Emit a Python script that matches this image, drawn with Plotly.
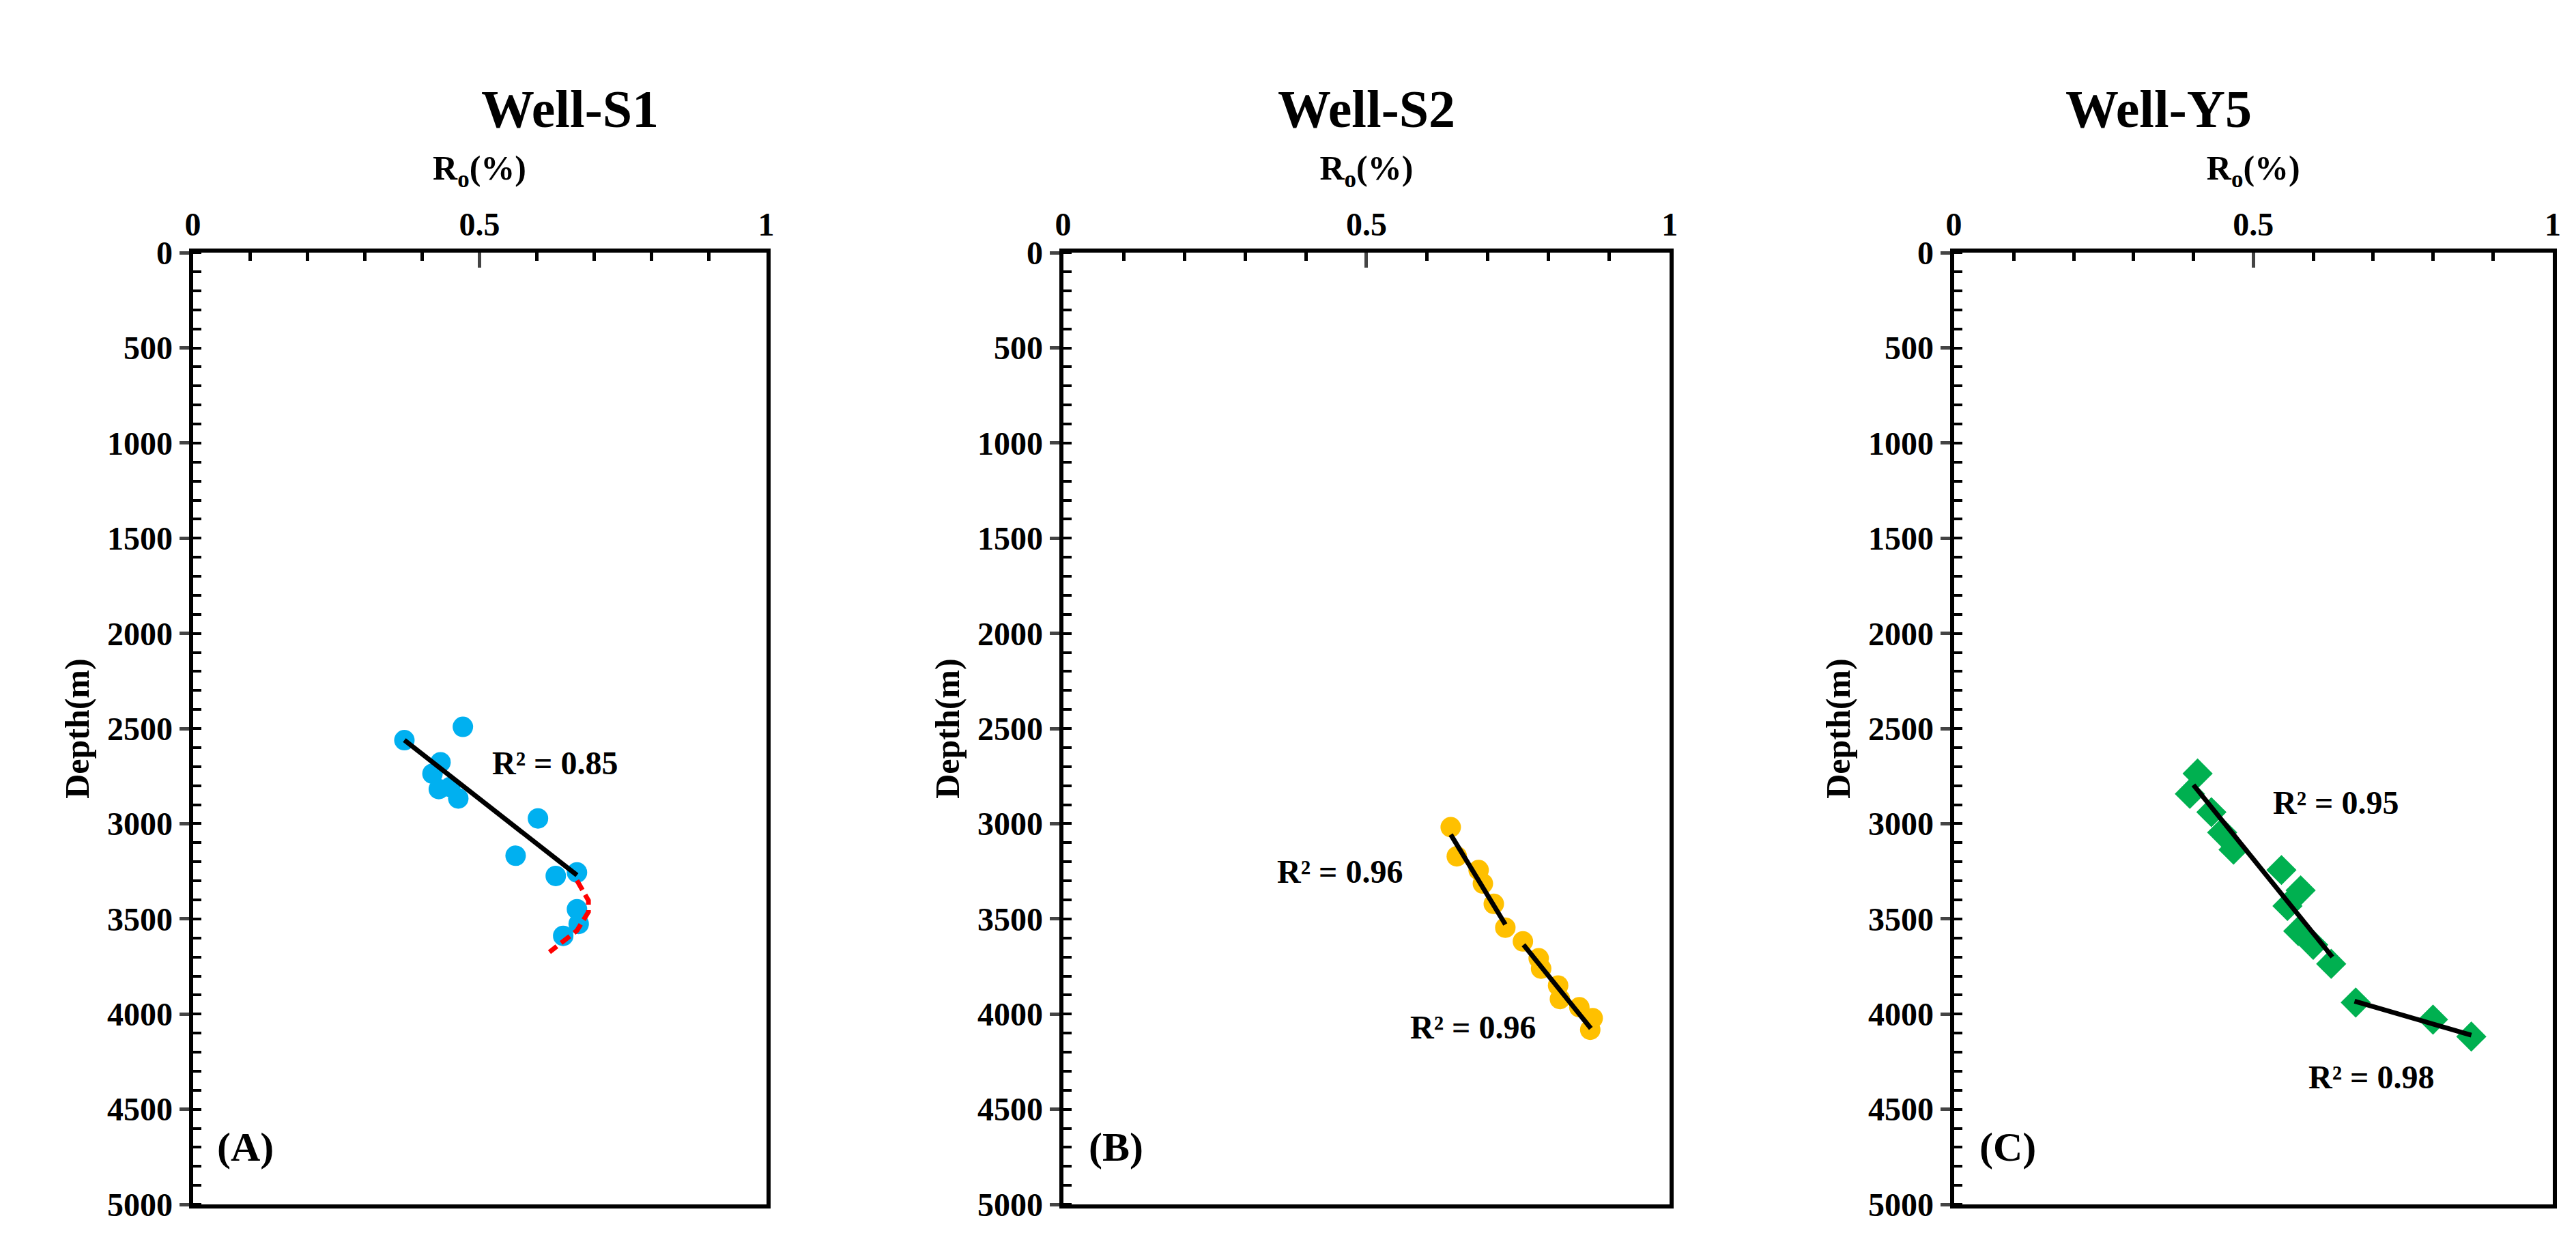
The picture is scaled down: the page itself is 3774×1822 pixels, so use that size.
import plotly.graph_objects as go

# Well-S1 data
s1_ro = [0.369, 0.471, 0.432, 0.418, 0.429, 0.463, 0.449, 0.602, 0.563, 0.633, 0.670, 0.670, 0.673, 0.646]
s1_depth = [2561, 2491, 2677, 2737, 2818, 2867, 2807, 2972, 3168, 3274, 3256, 3449, 3526, 3589]
s1_fit_ro = [0.369, 0.670]
s1_fit_depth = [2561, 3270]
s1_curve_ro = [0.670, 0.690, 0.690, 0.670, 0.622]
s1_curve_depth = [3298, 3403, 3463, 3561, 3674]

# Well-S2 data
s2_ro = [0.639, 0.649, 0.685, 0.692, 0.710, 0.729, 0.758, 0.784, 0.788, 0.816, 0.819, 0.851, 0.873, 0.869]
s2_depth = [3018, 3171, 3243, 3314, 3421, 3546, 3618, 3707, 3761, 3850, 3921, 3964, 4021, 4082]
s2_fit1_ro = [0.639, 0.729]
s2_fit1_depth = [3057, 3529]
s2_fit2_ro = [0.759, 0.870]
s2_fit2_depth = [3636, 4075]

# Well-Y5 data
y5_ro = [0.407, 0.394, 0.430, 0.448, 0.467, 0.547, 0.579, 0.557, 0.575, 0.600, 0.630, 0.671, 0.800, 0.864]
y5_depth = [2736, 2843, 2939, 3046, 3136, 3243, 3350, 3432, 3564, 3636, 3736, 3939, 4029, 4118]
y5_fit1_ro = [0.400, 0.632]
y5_fit1_depth = [2796, 3700]
y5_fit2_ro = [0.669, 0.864]
y5_fit2_depth = [3932, 4111]

FONT = "Liberation Serif"
domains = [(0.070, 0.294), (0.410, 0.647), (0.758, 0.992)]
titles = ["Well-S1", "Well-S2", "Well-Y5"]
panel_labels = ["(A)", "(B)", "(C)"]

fig = go.Figure()

def fit(x, y, xa, ya, dash="solid", color="black"):
    fig.add_trace(go.Scatter(x=x, y=y, mode="lines", xaxis=xa, yaxis=ya,
                             line=dict(color=color, width=7, dash=dash), showlegend=False))

fig.add_trace(go.Scatter(x=s1_ro, y=s1_depth, mode="markers", xaxis="x", yaxis="y",
                         marker=dict(color="#00B0F0", size=30, symbol="circle"), showlegend=False))
fit(s1_fit_ro, s1_fit_depth, "x", "y")
fit(s1_curve_ro, s1_curve_depth, "x", "y", dash="16px,8px", color="red")

fig.add_trace(go.Scatter(x=s2_ro, y=s2_depth, mode="markers", xaxis="x2", yaxis="y2",
                         marker=dict(color="#FFC000", size=30, symbol="circle"), showlegend=False))
fit(s2_fit1_ro, s2_fit1_depth, "x2", "y2")
fit(s2_fit2_ro, s2_fit2_depth, "x2", "y2")

fig.add_trace(go.Scatter(x=y5_ro, y=y5_depth, mode="markers", xaxis="x3", yaxis="y3",
                         marker=dict(color="#00B050", size=34, symbol="diamond"), showlegend=False))
fit(y5_fit1_ro, y5_fit1_depth, "x3", "y3")
fit(y5_fit2_ro, y5_fit2_depth, "x3", "y3")

layout = dict(width=3774, height=1822, plot_bgcolor="white", paper_bgcolor="white",
              margin=dict(l=0, r=0, t=0, b=0), font=dict(family=FONT, size=48, color="black"))
tickfont = dict(family=FONT, size=48, color="black", weight="bold")
annotations = []
for i, (d, t, p) in enumerate(zip(domains, titles, panel_labels)):
    sfx = "" if i == 0 else str(i + 1)
    layout["xaxis" + sfx] = dict(
        domain=list(d), anchor="y" + sfx, side="top", range=[0, 1], dtick=0.5,
        ticks="inside", ticklen=22, tickwidth=5, showgrid=False, zeroline=False,
        showline=True, linewidth=6, linecolor="black", mirror=True, tickfont=tickfont,
        minor=dict(dtick=0.1, ticks="inside", ticklen=12, tickwidth=5, tickcolor="black"),
        title=dict(text="<b>R<sub>o</sub>(%)</b>", font=dict(family=FONT, size=50), standoff=24))
    layout["yaxis" + sfx] = dict(
        domain=[0.022, 0.81], anchor="x" + sfx, range=[5000, 0], dtick=500,
        ticks="outside", ticklen=14, tickwidth=5, showgrid=False, zeroline=False,
        showline=True, linewidth=6, linecolor="black", mirror=True, tickfont=tickfont,
        minor=dict(dtick=100, ticks="inside", ticklen=12, tickwidth=4, tickcolor="black"),
        title=dict(text="<b>Depth(m)</b>", font=dict(family=FONT, size=50), standoff=12))
    annotations.append(dict(text="<b>" + t + "</b>", x=(d[0] + d[1]) / 2, y=0.955,
                            xref="paper", yref="paper", showarrow=False,
                            font=dict(family=FONT, size=78)))
    annotations.append(dict(text="<b>" + p + "</b>", x=0.04, y=4700,
                            xref="x" + sfx, yref="y" + sfx, xanchor="left", showarrow=False,
                            font=dict(family=FONT, size=60)))

r2 = [("x", "y", 0.52, 2680, "R² = 0.85"),
      ("x2", "y2", 0.35, 3250, "R² = 0.96"),
      ("x2", "y2", 0.57, 4070, "R² = 0.96"),
      ("x3", "y3", 0.53, 2890, "R² = 0.95"),
      ("x3", "y3", 0.59, 4330, "R² = 0.98")]
for xa, ya, x, y, txt in r2:
    annotations.append(dict(text="<b>" + txt + "</b>", x=x, y=y, xref=xa, yref=ya,
                            xanchor="left", showarrow=False, font=dict(family=FONT, size=48)))

layout["annotations"] = annotations
fig.update_layout(**layout)
fig.write_html("out.html")
